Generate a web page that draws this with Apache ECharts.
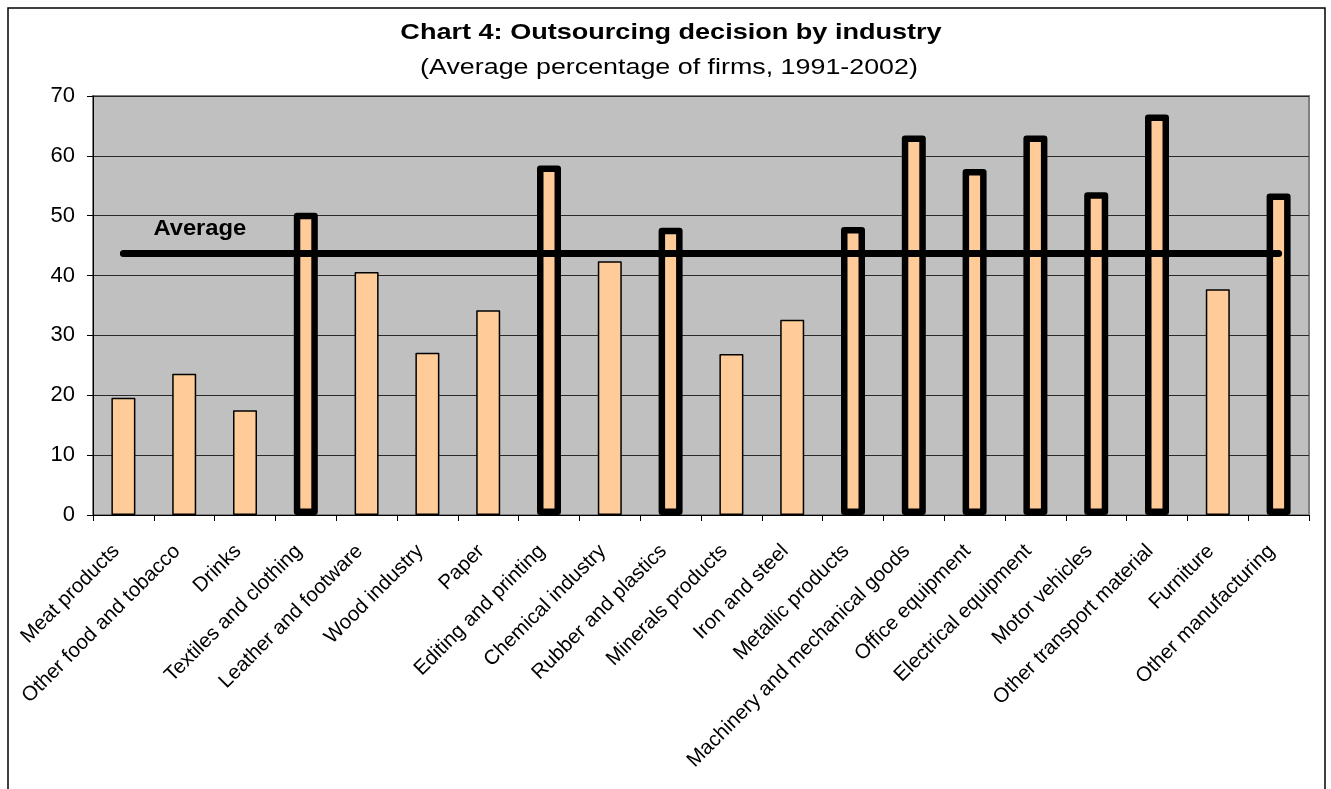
<!DOCTYPE html>
<html>
<head>
<meta charset="utf-8">
<title>Outsourcing decision by industry</title>
<script src="https://cdn.jsdelivr.net/npm/echarts@6/dist/echarts.min.js"></script>
<style>
  html, body { margin: 0; padding: 0; background: #ffffff; }
  #chart { width: 1331px; height: 789px; }
</style>
</head>
<body>
<div id="chart"></div>
<script>
// Industries on the horizontal axis
var industries = [
  'Meat products', 'Other food and tobacco', 'Drinks', 'Textiles and clothing',
  'Leather and footware', 'Wood industry', 'Paper', 'Editing and printing',
  'Chemical industry', 'Rubber and plastics', 'Minerals products', 'Iron and steel',
  'Metallic products', 'Machinery and mechanical goods', 'Office equipment',
  'Electrical equipment', 'Motor vehicles', 'Other transport material',
  'Furniture', 'Other manufacturing'
];

// Average percentage of firms that outsource, 1991-2002
var outsourcingShare = [
  19.6, 23.6, 17.5, 50.5, 40.6, 27.1, 34.2, 58.4, 42.4, 48.0,
  26.9, 32.6, 48.1, 63.4, 57.8, 63.4, 53.9, 66.9, 37.7, 53.7
];

// Cross-industry average
var averageShare = 43.7;

// Value axis
var yMin = 0, yMax = 70, yStep = 10;

var titleText = 'Chart 4: Outsourcing decision by industry';
var subtitleText = '(Average percentage of firms, 1991-2002)';
var averageLabel = 'Average';

var FONT = '"Liberation Sans", Arial, sans-serif';

var chart = echarts.init(document.getElementById('chart'), null, { renderer: 'canvas' });

// Industries above the average get a heavy outline
var barData = outsourcingShare.map(function (v) {
  var heavy = v > averageShare;
  return {
    value: v,
    itemStyle: {
      borderWidth: heavy ? 6.5 : 1.5,
      borderColor: '#000000',
      borderJoin: 'round'
    }
  };
});

var option = {
  animation: false,
  backgroundColor: '#ffffff',
  textStyle: { fontFamily: FONT, color: '#000' },
  grid: {
    left: 93, right: 22, top: 96, bottom: 274,
    show: true,
    backgroundColor: '#c0c0c0',
    borderColor: '#808080',
    borderWidth: 2
  },
  xAxis: {
    type: 'category',
    data: industries,
    boundaryGap: true,
    axisLine: { show: true, onZero: false, lineStyle: { color: '#000', width: 1 } },
    axisTick: { show: true, alignWithLabel: false, interval: 0, length: 6, lineStyle: { color: '#000' } },
    axisLabel: {
      interval: 0,
      rotate: 45,
      margin: 26,
      padding: [0, 10, 0, 0],
      fontFamily: FONT,
      fontSize: 20.5,
      color: '#000'
    },
    splitLine: { show: false }
  },
  yAxis: {
    type: 'value',
    min: yMin, max: yMax, interval: yStep,
    axisLine: { show: true, lineStyle: { color: '#000', width: 1 } },
    axisTick: { show: true, length: 6, lineStyle: { color: '#000' } },
    axisLabel: { fontFamily: FONT, fontSize: 22, color: '#000', margin: 18 },
    splitLine: { show: true, lineStyle: { color: '#2a2a2a', width: 1 } }
  },
  series: [
    {
      type: 'bar',
      data: barData,
      barWidth: 24,
      itemStyle: { color: '#ffcc99' },
      z: 2
    },
    {
      type: 'line',
      data: industries.map(function () { return averageShare; }),
      symbol: 'none',
      lineStyle: { color: '#000', width: 7, cap: 'round' },
      z: 5,
      silent: true
    }
  ]
};

chart.setOption(option);

// Caption above the start of the average line
var p = chart.convertToPixel({ xAxisIndex: 0, yAxisIndex: 0 }, [industries[0], averageShare]);
chart.setOption({
  graphic: [
    {
      // heading, drawn slightly wide
      type: 'text',
      x: 671, y: 33,
      scaleX: 1.23, scaleY: 1,
      style: {
        text: titleText,
        font: 'bold 22px ' + FONT,
        fill: '#000',
        align: 'center',
        verticalAlign: 'middle'
      }
    },
    {
      type: 'text',
      x: 669, y: 68,
      scaleX: 1.22, scaleY: 1,
      style: {
        text: subtitleText,
        font: '22px ' + FONT,
        fill: '#000',
        align: 'center',
        verticalAlign: 'middle'
      }
    },
    {
      type: 'text',
      x: p[0] + 30,
      y: p[1] - 24,
      scaleX: 1.08, scaleY: 1,
      z: 10,
      style: {
        text: averageLabel,
        font: 'bold 22px ' + FONT,
        fill: '#000',
        align: 'left',
        verticalAlign: 'middle'
      }
    },
    {
      // outer frame of the chart
      type: 'rect',
      shape: { x: 8, y: 8, width: 1317, height: 800 },
      style: { fill: 'none', stroke: '#000', lineWidth: 1.5 },
      z: 0,
      silent: true
    }
  ]
});
</script>
</body>
</html>
